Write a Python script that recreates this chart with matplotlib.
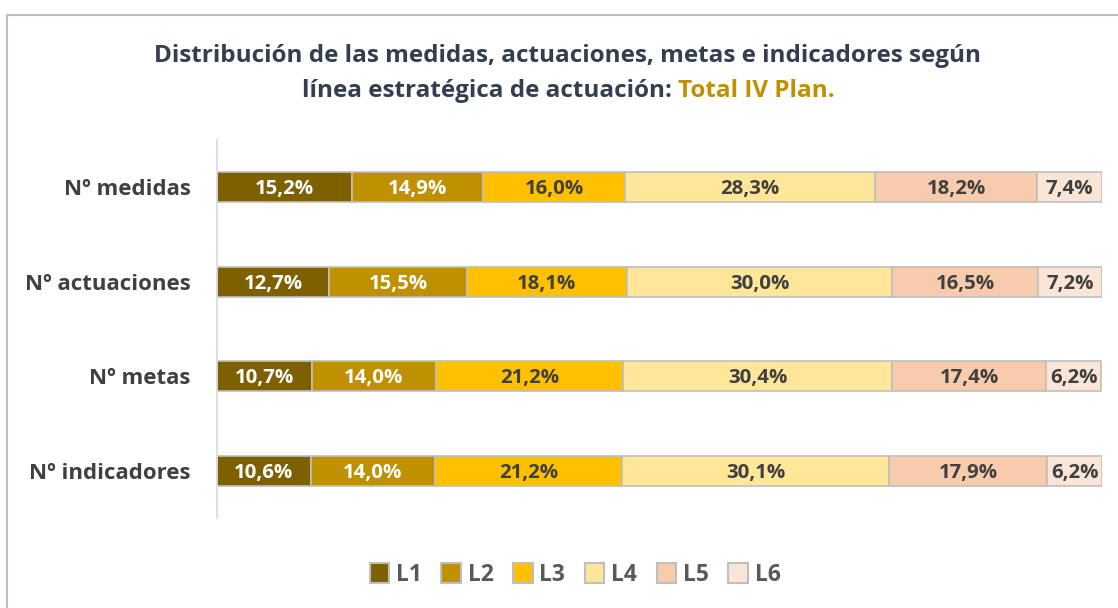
import matplotlib
matplotlib.use("Agg")
import matplotlib.pyplot as plt
from matplotlib.patches import Rectangle, Patch
import numpy as np

categories = ["Nº medidas", "Nº actuaciones", "Nº metas", "Nº indicadores"]
series_names = ["L1", "L2", "L3", "L4", "L5", "L6"]
L1 = [15.2, 12.7, 10.7, 10.6]
L2 = [14.9, 15.5, 14.0, 14.0]
L3 = [16.0, 18.1, 21.2, 21.2]
L4 = [28.3, 30.0, 30.4, 30.1]
L5 = [18.2, 16.5, 17.4, 17.9]
L6 = [7.4, 7.2, 6.2, 6.2]
series = [L1, L2, L3, L4, L5, L6]
colors = ["#7F6000", "#BF9000", "#FFC000", "#FFE699", "#F8CBAD", "#FBE5D6"]
text_colors = ["white", "white", "#404040", "#404040", "#404040", "#404040"]

plt.rcParams['font.family'] = ['Open Sans', 'DejaVu Sans']
W, H = 1118, 608
fig = plt.figure(figsize=(W/100, H/100), dpi=100)
fig.patch.set_facecolor("white")

# outer frame
fig.patches.append(Rectangle((7/W, -0.1), 1.2, 1 - 15/H + 0.1, transform=fig.transFigure,
                             fill=False, edgecolor="#BFBFBF", lw=1.5))

ax = fig.add_axes([217/W, 1 - 518/H, (1102 - 217)/W, (518 - 140)/H])
y = np.arange(len(categories))
left = np.zeros(len(categories))
for vals, c, tc in zip(series, colors, text_colors):
    vals = np.array(vals)
    ax.barh(y, vals, left=left, height=0.32, color=c, edgecolor="#BFBFBF", linewidth=1.2)
    for yi, l, v in zip(y, left, vals):
        ax.text(l + v/2, yi + 0.02, f"{v:.1f}%".replace(".", ","), ha="center", va="center",
                color=tc, fontsize=14.7, fontweight="bold")
    left += vals

ax.set_xlim(0, 100)
ax.set_ylim(3.5, -0.5)
ax.set_yticks(y)
ax.set_yticklabels(categories, fontsize=16, fontweight="bold", color="#404040")
ax.tick_params(axis="y", length=0, pad=19)
ax.set_xticks([])
for s in ["top", "right", "bottom"]:
    ax.spines[s].set_visible(False)
ax.spines["left"].set_color("#D9D9D9")
ax.spines["left"].set_linewidth(1.2)

# title
title_col = "#333F50"
fig.text(568/W, 1 - 56/H, "Distribución de las medidas, actuaciones, metas e indicadores según",
         ha="center", va="center", fontsize=17.5, fontweight="bold", color=title_col)
t1 = fig.text(0, 1 - 91/H, "línea estratégica de actuación: ", ha="left", va="center",
              fontsize=17.5, fontweight="bold", color=title_col)
t2 = fig.text(0, 1 - 91/H, "Total IV Plan.", ha="left", va="center",
              fontsize=17.5, fontweight="bold", color="#BF9000")
fig.canvas.draw()
r = fig.canvas.get_renderer()
w1 = t1.get_window_extent(r).width
w2 = t2.get_window_extent(r).width
x0 = 568 - (w1 + w2) / 2
t1.set_x(x0 / W)
t2.set_x((x0 + w1) / W)

handles = [Patch(facecolor=c, edgecolor="#BFBFBF", linewidth=1.5) for c in colors]
fig.legend(handles, series_names, loc="center", bbox_to_anchor=(575/W, 1 - 575/H), ncol=6,
           frameon=False, handlelength=0.85, handleheight=0.95, handletextpad=0.3,
           columnspacing=0.85, prop={"size": 16.5, "weight": "bold"}, labelcolor="#595959")

fig.savefig("out.png", dpi=100, facecolor="white")
